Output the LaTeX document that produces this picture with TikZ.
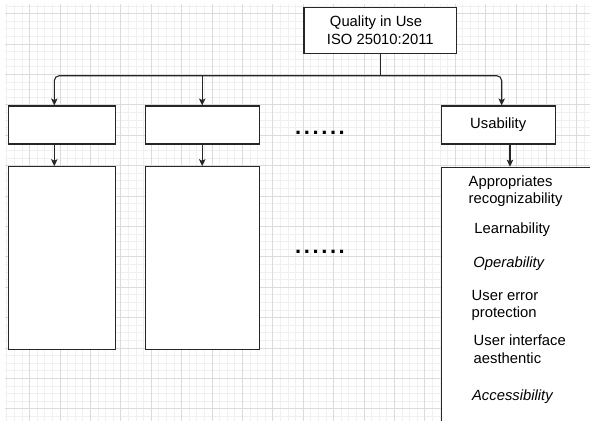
\documentclass[tikz,border=0pt]{standalone}
\usepackage{fontspec}
\setmainfont{Liberation Sans}
\usetikzlibrary{arrows.meta}
\newcommand\figfont{\fontsize{14.8}{17.3}\selectfont}
\begin{document}
\begin{tikzpicture}[x=1pt,y=-1pt,
  minorg/.style={draw=black!6, line width=0.8pt},
  majorg/.style={draw=black!14, line width=0.8pt},
  box/.style={draw=black!85, line width=1.1pt, fill=white, inner sep=0pt, font=\figfont, align=center},
  conn/.style={draw=black!85, line width=1.1pt},
  arr/.style={conn, -{Stealth[length=7pt,width=6.5pt,inset=1.6pt]}},
  item/.style={inner sep=0pt, align=left, font=\figfont, anchor=base west},
  dotrow/.style={inner sep=0pt, font=\bfseries\fontsize{22}{22}\selectfont},
]
\useasboundingbox (0,0) rectangle (590,421);
\begin{scope}
\clip (0,0) rectangle (590,421);
% grid
\foreach \i in {0,...,77} { \pgfmathsetmacro\gx{6.7+7.6*\i} \draw[minorg] (\gx,4) -- (\gx,421); }
\foreach \j in {0,...,55} { \pgfmathsetmacro\gy{5.9+7.6*\j} \draw[minorg] (5,\gy) -- (590,\gy); }
\foreach \i in {0,...,19} { \pgfmathsetmacro\gx{29.5+30.4*\i} \draw[majorg] (\gx,4) -- (\gx,421); }
\foreach \j in {0,...,13} { \pgfmathsetmacro\gy{13.5+30.4*\j} \draw[majorg] (5,\gy) -- (590,\gy); }

% boxes
\node[box, minimum width=152.7, minimum height=46] (top) at (380.3,30.3) {Quality in Use\kern8.5pt\\ISO 25010:2011};
\node[box, minimum width=107, minimum height=38] (b1) at (61.8,125) {};
\node[box, minimum width=114.3, minimum height=38] (b2) at (202.2,125) {};
\node[box, minimum width=114.3, minimum height=38] (us) at (498.2,125) {Usability};
\node[box, minimum width=107, minimum height=182.6] (d1) at (61.8,258) {};
\node[box, minimum width=114.3, minimum height=182.6] (d2) at (202.2,258) {};
\node[box, minimum width=170, minimum height=290, anchor=north west] (du) at (441,166.7) {};

% connectors
\coordinate (j) at (380.3,75.7);
\draw[conn] (top.south) -- (j);
\draw[arr, rounded corners=5pt] (j) -| ([xshift=-7.5pt]b1.north);
\draw[arr, rounded corners=5pt] (j) -| ([xshift=3.5pt]us.north);
\draw[arr] (j -| b2.north) -- (b2.north);
\draw[arr] ([xshift=-7.5pt]b1.south) -- ([xshift=-7.5pt]d1.north);
\draw[arr] (b2.south) -- (d2.north);
\draw[arr] ([xshift=11.8pt]us.south) -- ([xshift=11.8pt]us.south |- du.north);

% dots
\node[dotrow] (dots1) at (320,133.3) {.\kern2.6pt.\kern2.6pt.\kern2.6pt.\kern2.6pt.\kern2.6pt.};
\node[dotrow] (dots2) at (320,251.7) {.\kern2.6pt.\kern2.6pt.\kern2.6pt.\kern2.6pt.\kern2.6pt.};

% usability items
\node[item] (u1) at (468.5,203.7) {Appropriates\\recognizability};
\node[item] (u2) at (474.2,233.7) {Learnability};
\node[item] (u3) at (473.2,267.1) {\itshape Operability};
\node[item] (u4) at (471.5,317.7) {User error\\protection};
\node[item] (u5) at (473.5,363.1) {User interface\\aesthentic};
\node[item] (u6) at (471.9,400.4) {\itshape Accessibility};
\end{scope}
\end{tikzpicture}
\end{document}
